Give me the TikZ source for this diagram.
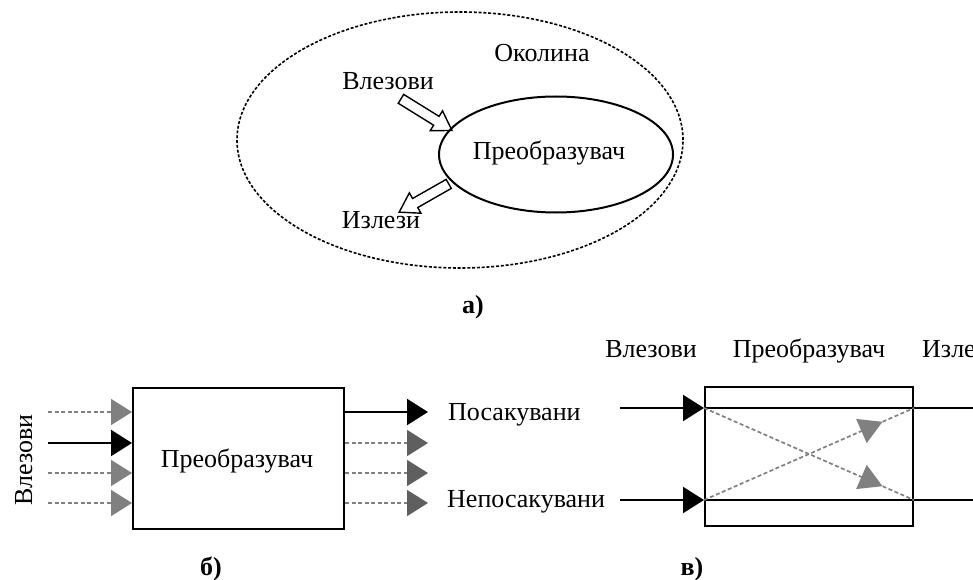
\documentclass[tikz,border=0pt]{standalone}
\usepackage{fontspec}
\setmainfont{Liberation Serif}
\usetikzlibrary{arrows.meta,shapes.geometric,shapes.arrows,decorations.markings,calc}
\definecolor{lgray}{HTML}{808080}
\definecolor{dgray}{HTML}{5f5f5f}
\begin{document}
\begin{tikzpicture}[x=1pt,y=-1pt,
  font=\fontsize{26}{30}\selectfont,
  lbl/.style={inner sep=0pt,anchor=base},
  envell/.style={ellipse,draw,line width=1.6pt,dash pattern=on 3pt off 1.8pt,inner sep=0pt},
  procell/.style={ellipse,draw,line width=2pt,inner sep=0pt},
  blockarr/.style={single arrow,draw,line width=1.4pt,inner xsep=0pt,inner ysep=4.5pt,
    single arrow head extend=6.5pt,single arrow tip angle=65},
  procbox/.style={draw,line width=2pt,inner sep=0pt},
  solidin/.style={draw,line width=2.2pt,-{Triangle[length=21pt,width=26pt]}},
  dashin/.style={draw=lgray,line width=1.7pt,dash pattern=on 4pt off 2.5pt,
    -{Triangle[length=21pt,width=26pt,fill=lgray,color=lgray]}},
  dashout/.style={draw=lgray,line width=1.7pt,dash pattern=on 4pt off 2.5pt,
    -{Triangle[length=21pt,width=26pt,fill=dgray,color=dgray]}},
  plainline/.style={draw,line width=2.2pt},
  crossline/.style={draw=lgray,line width=1.7pt,dash pattern=on 4pt off 2.5pt,
    postaction={decorate,decoration={markings,mark=at position 0.85 with
      {\arrow[lgray]{Triangle[length=23pt,width=26pt]}}}}},
  caption/.style={inner sep=0pt,anchor=base,font=\fontsize{26}{30}\selectfont\bfseries}
]
\useasboundingbox (0,0) rectangle (973,580);

% ---------------- a) ----------------
\node[envell,minimum width=446pt,minimum height=256pt] (env) at (460,140) {};
\node[procell,minimum width=234pt,minimum height=116pt] (proc) at (556,154.5) {};
\node[lbl] (procA) at (549,160) {Преобразувач};
\node[lbl] (okol) at (542,62) {Околина};
\node[lbl] (inA) at (388,90) {Влезови};
\node[lbl] (outA) at (381,228) {Излези};
\node[blockarr,minimum height=60pt,rotate=-31.8] (arrIn) at (423,112.5) {};
\node[blockarr,minimum height=57pt,rotate=-150.3] (arrOut) at (427.5,196) {};
\node[caption] (capA) at (473,313) {а)};

% ---------------- б) ----------------
\node[procbox,minimum width=211pt,minimum height=141pt] (boxb) at (238.5,458.5) {};
\node[lbl] (procB) at (237,467) {Преобразувач};
\node[lbl,rotate=90] (inB) at (32,460) {Влезови};

\coordinate (bi1) at (48,412);
\coordinate (bi2) at (48,443);
\coordinate (bi3) at (48,473);
\coordinate (bi4) at (48,503);
\path[dashin] (bi1) -- (boxb.west |- bi1);
\path[solidin] (bi2) -- (boxb.west |- bi2);
\path[dashin] (bi3) -- (boxb.west |- bi3);
\path[dashin] (bi4) -- (boxb.west |- bi4);

\coordinate (bo1) at (428,412);
\coordinate (bo2) at (428,443);
\coordinate (bo3) at (428,473);
\coordinate (bo4) at (428,503);
\path[solidin] (boxb.east |- bo1) -- (bo1);
\path[dashout] (boxb.east |- bo2) -- (bo2);
\path[dashout] (boxb.east |- bo3) -- (bo3);
\path[dashout] (boxb.east |- bo4) -- (bo4);

\node[lbl,anchor=base west] (pos) at (448,420) {Посакувани};
\node[lbl,anchor=base west] (nepos) at (447,507) {Непосакувани};
\node[caption] (capB) at (211,575) {б)};

% ---------------- в) ----------------
\node[procbox,minimum width=208pt,minimum height=139pt] (boxc) at (809,456.5) {};
\node[lbl] (inC) at (651,357) {Влезови};
\node[lbl] (procC) at (809,357) {Преобразувач};
\node[lbl,anchor=base west] (outC) at (922,357) {Излези};

\coordinate (c1s) at (620,408);
\coordinate (c2s) at (620,500);
\coordinate (c1e) at (975,408);
\coordinate (c2e) at (975,500);
\coordinate (c1a) at (boxc.west |- c1s);
\coordinate (c2a) at (boxc.west |- c2s);
\coordinate (c1b) at (boxc.east |- c1s);
\coordinate (c2b) at (boxc.east |- c2s);
\path[solidin] (c1s) -- (c1a);
\path[solidin] (c2s) -- (c2a);
\path[plainline] (c1a) -- (c1e);
\path[plainline] (c2a) -- (c2e);
\path[crossline] (c1a) -- (c2b);
\path[crossline] (c2a) -- (c1b);
\node[caption] (capC) at (692,575) {в)};
\end{tikzpicture}
\end{document}
